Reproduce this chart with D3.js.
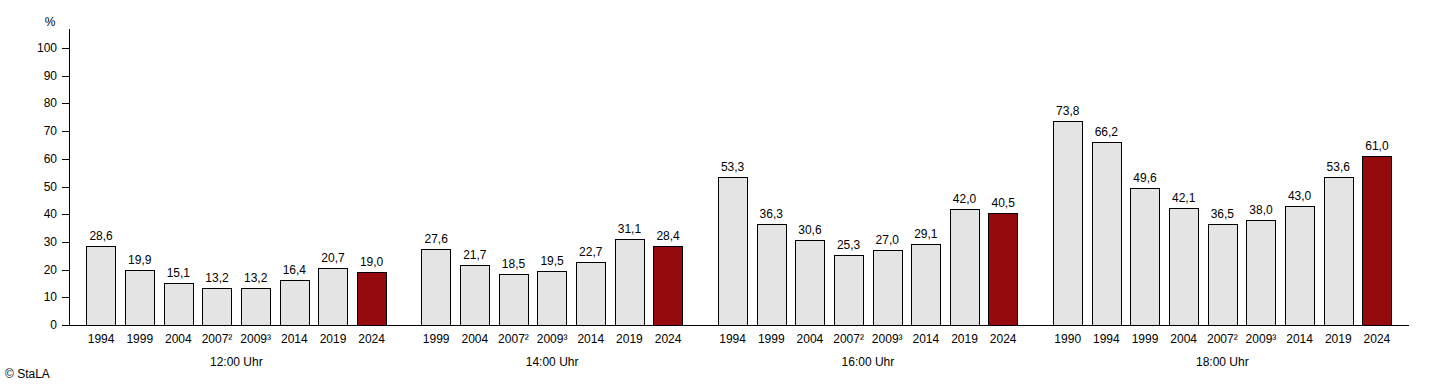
<!DOCTYPE html>
<html>
<head>
<meta charset="utf-8">
<script src="https://cdn.jsdelivr.net/npm/d3@7"></script>
<style>
  body { margin: 0; background: #fff; }
  svg text { font-family: "Liberation Sans", Arial, sans-serif; font-size: 12px; fill: #000; }
</style>
</head>
<body>
<script>
// groups and their years / values
const groups = ["12:00 Uhr", "14:00 Uhr", "16:00 Uhr", "18:00 Uhr"];
const years = [
  ["1994", "1999", "2004", "2007²", "2009³", "2014", "2019", "2024"],
  ["1999", "2004", "2007²", "2009³", "2014", "2019", "2024"],
  ["1994", "1999", "2004", "2007²", "2009³", "2014", "2019", "2024"],
  ["1990", "1994", "1999", "2004", "2007²", "2009³", "2014", "2019", "2024"]
];
const values = [
  [28.6, 19.9, 15.1, 13.2, 13.2, 16.4, 20.7, 19.0],
  [27.6, 21.7, 18.5, 19.5, 22.7, 31.1, 28.4],
  [53.3, 36.3, 30.6, 25.3, 27.0, 29.1, 42.0, 40.5],
  [73.8, 66.2, 49.6, 42.1, 36.5, 38.0, 43.0, 53.6, 61.0]
];
const yTicks = [0, 10, 20, 30, 40, 50, 60, 70, 80, 90, 100];

const W = 1430, H = 384;
const gap = 0.67, pad = 0.83;

// flatten into slot positions
let rows = [];
let pos = 0;
let groupCenters = [];
years.forEach((ys, g) => {
  let start = pos;
  ys.forEach((yr, i) => {
    rows.push({ year: yr, value: values[g][i], slot: pos, last: i === ys.length - 1 });
    pos += 1;
  });
  groupCenters.push({ name: groups[g], slot: (start + pos - 1) / 2 });
  pos += gap;
});
const lastSlot = rows[rows.length - 1].slot;

const x = d3.scaleLinear().domain([-pad, lastSlot + pad]).range([69, 1409]);
const y = d3.scaleLinear().domain([0, 100]).range([325, 48]);
const step = x(1) - x(0);
const bw = step * 0.76;

const svg = d3.select("body").append("svg").attr("width", W).attr("height", H);

// y axis
svg.append("line").attr("x1", 69.5).attr("x2", 69.5).attr("y1", 29).attr("y2", y(0))
  .attr("stroke", "#000");
svg.selectAll(".ytick").data(yTicks).enter().append("line")
  .attr("x1", 62).attr("x2", 69).attr("y1", d => Math.round(y(d)) + 0.5).attr("y2", d => Math.round(y(d)) + 0.5)
  .attr("stroke", "#000");
svg.selectAll(".ylab").data(yTicks).enter().append("text")
  .attr("x", 57).attr("y", d => y(d) + 4).attr("text-anchor", "end").text(d => d);
svg.append("text").attr("x", 50).attr("y", 26).attr("text-anchor", "middle").text("%");

// bars
svg.selectAll(".bar").data(rows).enter().append("rect")
  .attr("x", d => Math.round(x(d.slot) - bw / 2) + 0.5)
  .attr("y", d => Math.round(y(d.value)) + 0.5)
  .attr("width", Math.round(bw))
  .attr("height", d => Math.round(y(0)) - Math.round(y(d.value)))
  .attr("fill", d => d.last ? "#940a0d" : "#e4e4e4")
  .attr("stroke", "#000");

svg.selectAll(".val").data(rows).enter().append("text")
  .attr("x", d => x(d.slot)).attr("y", d => y(d.value) - 6)
  .attr("text-anchor", "middle").text(d => d3.format(".1f")(d.value).replace(".", ","));

// x axis
svg.append("line").attr("x1", 69).attr("x2", 1409).attr("y1", Math.round(y(0)) + 0.5).attr("y2", Math.round(y(0)) + 0.5)
  .attr("stroke", "#000");
svg.selectAll(".xlab").data(rows).enter().append("text")
  .attr("x", d => x(d.slot)).attr("y", 343).attr("text-anchor", "middle").text(d => d.year);
svg.selectAll(".glab").data(groupCenters).enter().append("text")
  .attr("x", d => x(d.slot)).attr("y", 366).attr("text-anchor", "middle").text(d => d.name);

svg.append("text").attr("x", 5).attr("y", 378).text("© StaLA");
</script>
</body>
</html>
